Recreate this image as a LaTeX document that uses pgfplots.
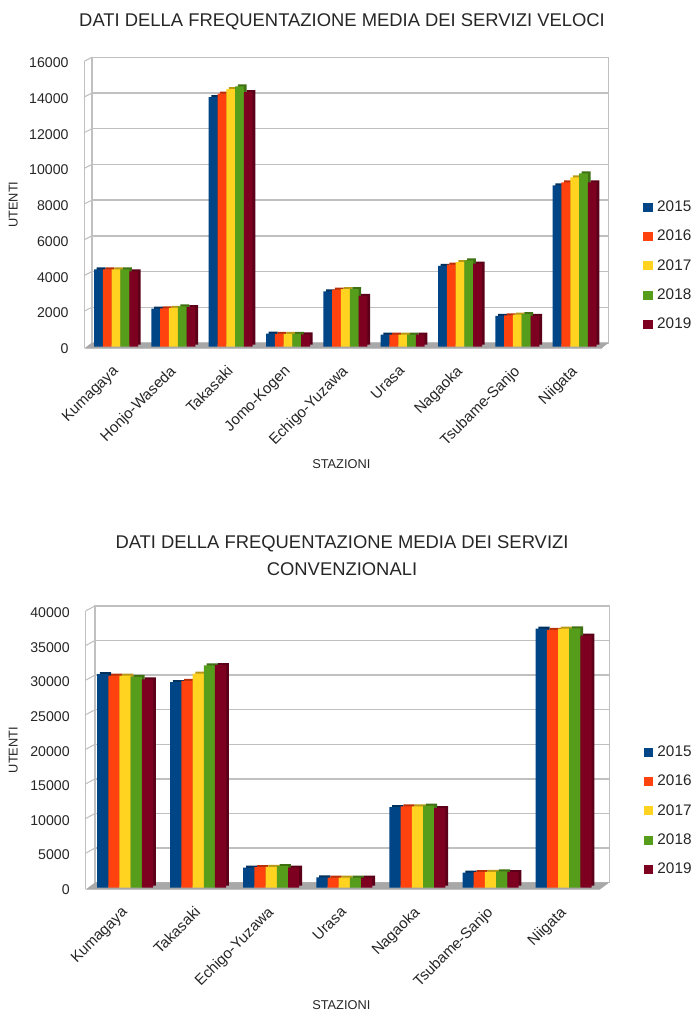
\documentclass[border=0pt]{standalone}
\usepackage{fontspec}
\setmainfont{Liberation Sans}
\usepackage{pgfplots}
\usepackage{pgfplotstable}
\pgfplotsset{compat=1.18}

\definecolor{c15}{HTML}{004586}
\definecolor{c16}{HTML}{FF420E}
\definecolor{c17}{HTML}{FFD320}
\definecolor{c18}{HTML}{579D1C}
\definecolor{c19}{HTML}{7E0021}
\definecolor{griglia}{HTML}{C0C0C0}
\definecolor{pavimento}{HTML}{A8A8A8}

% frequentazione veloci
\pgfplotstableread{
x y15 y16 y17 y18 y19
0 4330 4330 4330 4330 4220
1 2130 2150 2180 2260 2220
2 13980 14170 14430 14580 14260
3 730 720 710 720 690
4 3100 3190 3230 3230 2840
5 670 670 670 670 670
6 4520 4590 4740 4840 4650
7 1720 1750 1790 1830 1720
8 9040 9200 9480 9710 9200
}\veloci

% frequentazione convenzionali
\pgfplotstableread{
x y15 y16 y17 y18 y19
0 30880 30640 30640 30490 30100
1 29720 29910 30925 32130 32180
2 2890 2990 3030 3130 2890
3 1490 1480 1470 1480 1450
4 11660 11750 11750 11850 11510
5 2170 2260 2310 2360 2260
6 37430 37280 37430 37480 36420
}\convenzionali

\pgfplotsset{
  quadratino/.style={legend image code/.code={\fill[##1] (0pt,-3.4pt) rectangle (6.8pt,3.4pt);}},
  parete/.style={
    scale only axis, anchor=south west, clip=false,
    axis line style={griglia, line width=0.9pt},
    xtick=\empty, yticklabels={}, major tick length=0pt,
    scaled y ticks=false,
    ymajorgrids, grid style={griglia, line width=1pt},
  },
  fronte/.style={
    scale only axis, anchor=south west, clip=false,
    axis line style={draw=none}, major tick length=0pt,
    scaled y ticks=false,
    /pgf/number format/assume math mode=true,
    /pgf/number format/1000 sep={},
    yticklabel style={font=\fontsize{10.6}{12}\selectfont, anchor=east, xshift=-8.5pt, yshift=-1.4pt, text=black!85},
    xticklabel style={font=\fontsize{11.3}{13}\selectfont, rotate=45, anchor=north east, inner sep=0pt, xshift=-11.7pt, yshift=-6.8pt, text=black!85},
    legend cell align=left,
    legend style={draw=none, fill=none, anchor=west, inner sep=0pt, outer sep=0pt,
      font=\fontsize{11.5}{12}\selectfont,
      /tikz/every odd column/.append style={column sep=1.5pt},
      row sep=8.5pt, text=black!85},
  },
}

% tabella, colonna, colore, bar shift, larghezza, dx, dy
\newcommand{\serie}[7]{%
  \addplot[forget plot, ybar, fill=#3!72!black, draw=none, bar width=#5, bar shift=#4, xshift=#6, yshift=#7] table[x=x, y=#2] {#1};
  \addplot[ybar, fill=#3, draw=none, bar width=#5, bar shift=#4, quadratino] table[x=x, y=#2] {#1};
}

\begin{document}
\begin{tikzpicture}
\useasboundingbox (0,0) rectangle (524.25pt,-768pt);

\node[font=\fontsize{13.8}{16}\selectfont, text=black!85] at (256.5pt,-16.2pt) {DATI DELLA FREQUENTAZIONE MEDIA DEI SERVIZI VELOCI};
\node[font=\fontsize{9.6}{11}\selectfont, rotate=90, text=black!85] at (10pt,-153.5pt) {UTENTI};
\node[font=\fontsize{9.6}{11}\selectfont, text=black!85] at (256pt,-348pt) {STAZIONI};

\begin{axis}[parete, at={(69pt,-257.2pt)}, width=387.5pt, height=214.2pt,
    xmin=0, xmax=1, ymin=0, ymax=16000, ytick={0,2000,4000,6000,8000,10000,12000,14000,16000}]
  \pgfplotsinvokeforeach{2000,4000,6000,8000,10000,12000,14000,16000}{
    \draw[griglia, line width=0.8pt] (axis cs:0,#1) -- ++(-5.6pt,-2.8pt);
  }
\end{axis}

\begin{axis}[fronte, at={(63.4pt,-260pt)}, width=387.8pt, height=214.2pt,
    xmin=-0.55, xmax=8.47, ymin=0, ymax=16000, ytick={0,2000,4000,6000,8000,10000,12000,14000,16000},
    xtick={0,1,2,3,4,5,6,7,8},
    xticklabels={Kumagaya,Honjo-Waseda,Takasaki,Jomo-Kogen,Echigo-Yuzawa,Urasa,Nagaoka,Tsubame-Sanjo,Niigata},
    legend style={at={(1.081,0.283)}}]
  \fill[pavimento] (axis cs:-0.55,-90) -- (axis cs:8.47,-90) -- ++(5pt,3.9pt) -- ++(-387.8pt,0pt) -- cycle;
  \draw[griglia, line width=0.8pt] (axis cs:-0.55,-90) -- (axis cs:-0.55,16000);
  \draw[griglia, line width=0.9pt] (axis cs:-0.55,-90) -- (axis cs:8.47,-90);
  \serie{\veloci}{y15}{c15}{-13.2pt}{6.6pt}{2pt}{1.5pt}
  \serie{\veloci}{y16}{c16}{-6.6pt}{6.6pt}{2pt}{1.5pt}
  \serie{\veloci}{y17}{c17}{0pt}{6.6pt}{2pt}{1.5pt}
  \serie{\veloci}{y18}{c18}{6.6pt}{6.6pt}{2pt}{1.5pt}
  \serie{\veloci}{y19}{c19}{13.2pt}{6.6pt}{2pt}{1.5pt}
  \legend{2015,2016,2017,2018,2019}
\end{axis}

\node[font=\fontsize{13.8}{16}\selectfont, text=black!85, align=center] at (256.5pt,-416.8pt) {DATI DELLA FREQUENTAZIONE MEDIA DEI SERVIZI\\[3.8pt]CONVENZIONALI};
\node[font=\fontsize{9.6}{11}\selectfont, rotate=90, text=black!85] at (10pt,-562.5pt) {UTENTI};
\node[font=\fontsize{9.6}{11}\selectfont, text=black!85] at (256pt,-754pt) {STAZIONI};

\begin{axis}[parete, at={(71.3pt,-662pt)}, width=385.7pt, height=207.6pt,
    xmin=0, xmax=1, ymin=0, ymax=40000, ytick={0,5000,10000,15000,20000,25000,30000,35000,40000}]
  \pgfplotsinvokeforeach{5000,10000,15000,20000,25000,30000,35000,40000}{
    \draw[griglia, line width=0.8pt] (axis cs:0,#1) -- ++(-7pt,-3.75pt);
  }
\end{axis}

\begin{axis}[fronte, at={(64.3pt,-665.8pt)}, width=385.7pt, height=207.6pt,
    xmin=-0.538, xmax=6.498, ymin=0, ymax=40000, ytick={0,5000,10000,15000,20000,25000,30000,35000,40000},
    xtick={0,1,2,3,4,5,6},
    xticklabels={Kumagaya,Takasaki,Echigo-Yuzawa,Urasa,Nagaoka,Tsubame-Sanjo,Niigata},
    legend style={at={(1.085,0.278)}}]
  \fill[pavimento] (axis cs:-0.538,-240) -- (axis cs:6.498,-240) -- ++(7pt,5.2pt) -- ++(-385.7pt,0pt) -- cycle;
  \draw[griglia, line width=0.8pt] (axis cs:-0.538,-240) -- (axis cs:-0.538,40000);
  \draw[griglia, line width=0.9pt] (axis cs:-0.538,-240) -- (axis cs:6.498,-240);
  \serie{\convenzionali}{y15}{c15}{-16.8pt}{8.4pt}{2.1pt}{1.5pt}
  \serie{\convenzionali}{y16}{c16}{-8.4pt}{8.4pt}{2.1pt}{1.5pt}
  \serie{\convenzionali}{y17}{c17}{0pt}{8.4pt}{2.1pt}{1.5pt}
  \serie{\convenzionali}{y18}{c18}{8.4pt}{8.4pt}{2.1pt}{1.5pt}
  \serie{\convenzionali}{y19}{c19}{16.8pt}{8.4pt}{2.1pt}{1.5pt}
  \legend{2015,2016,2017,2018,2019}
\end{axis}
\end{tikzpicture}
\end{document}
